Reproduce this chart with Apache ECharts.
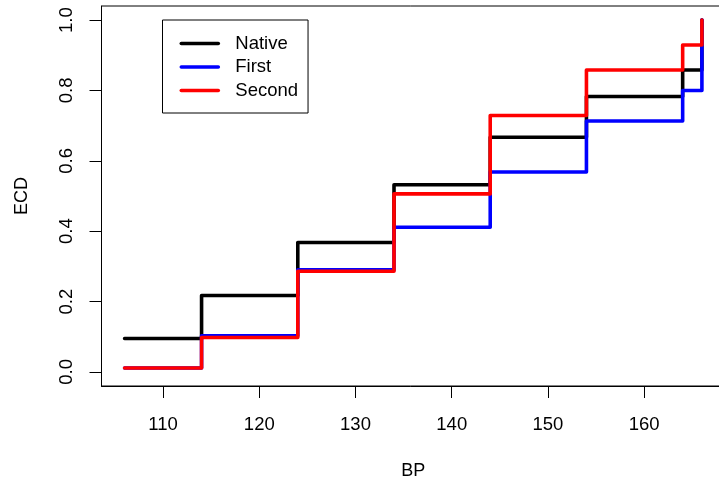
<!DOCTYPE html>
<html>
<head>
<meta charset="utf-8">
<script src="https://cdn.jsdelivr.net/npm/echarts@6/dist/echarts.min.js"></script>
<style>
html,body{margin:0;padding:0;background:#fff;}
#chart{width:719px;height:481px;}
</style>
</head>
<body>
<div id="chart"></div>
<script>
// Step positions (BP) and ECDF values for each group
var bpValues = [106, 114, 124, 134, 144, 154, 164, 166];
var nativeECD = [0.095, 0.217, 0.368, 0.532, 0.667, 0.783, 0.858, 1.0];
var firstECD  = [0.011, 0.103, 0.290, 0.411, 0.568, 0.713, 0.800, 1.0];
var secondECD = [0.011, 0.098, 0.286, 0.506, 0.729, 0.858, 0.929, 1.0];
var seriesNames = ['Native', 'First', 'Second'];
var xTicks = [110, 120, 130, 140, 150, 160];
var yTicks = [0, 0.2, 0.4, 0.6, 0.8, 1.0];

function pairs(xs, ys) { return xs.map(function (x, i) { return [x, ys[i]]; }); }

var FONT = 'Liberation Sans';
var chart = echarts.init(document.getElementById('chart'), null, {renderer: 'canvas'});

function stepSeries(name, ys, color) {
  return {
    name: name,
    type: 'line',
    step: 'end',
    symbol: 'none',
    data: pairs(bpValues, ys),
    lineStyle: {color: color, width: 3.6, cap: 'round', join: 'round'},
    itemStyle: {color: color},
    animation: false
  };
}

chart.setOption({
  animation: false,
  backgroundColor: '#fff',
  textStyle: {fontFamily: FONT},
  grid: {
    left: 101.5, top: 6, width: 623.5, height: 380,
    outerBoundsMode: 'none', containLabel: false,
    show: true, borderColor: '#000', borderWidth: 1, backgroundColor: 'transparent'
  },
  legend: {
    orient: 'vertical',
    left: 162.5, top: 20,
    data: seriesNames,
    itemWidth: 37, itemHeight: 18, itemGap: 4.5,
    padding: [14, 10, 13, 17],
    borderColor: '#000', borderWidth: 1,
    backgroundColor: '#fff',
    itemStyle: {opacity: 0, color: 'rgba(0,0,0,0)', borderWidth: 0},
    lineStyle: {width: 3.6, cap: 'round'},
    textStyle: {fontFamily: FONT, fontSize: 18.5, color: '#000', padding: [0, 0, 0, 12]},
    selectedMode: false
  },
  xAxis: {
    type: 'value',
    min: 103.6, max: 168.4,
    name: 'BP', nameLocation: 'middle', nameGap: 76,
    nameTextStyle: {fontFamily: FONT, fontSize: 18, color: '#000'},
    axisLine: {show: true, onZero: false, lineStyle: {color: '#000', width: 1}},
    axisTick: {show: true, length: 12, customValues: xTicks, lineStyle: {color: '#000', width: 1}},
    axisLabel: {customValues: xTicks, margin: 29, fontFamily: FONT, fontSize: 18.5, color: '#000'},
    splitLine: {show: false}
  },
  yAxis: {
    type: 'value',
    min: -0.04, max: 1.04,
    name: 'ECD', nameLocation: 'middle', nameGap: 70, nameRotate: 90,
    nameTextStyle: {fontFamily: FONT, fontSize: 18, color: '#000'},
    axisLine: {show: true, onZero: false, lineStyle: {color: '#000', width: 1}},
    axisTick: {show: true, length: 12, customValues: yTicks, lineStyle: {color: '#000', width: 1}},
    axisLabel: {customValues: yTicks, rotate: 90, margin: 25, fontFamily: FONT, fontSize: 18.5, color: '#000',
      formatter: function (v) { return v.toFixed(1); }},
    splitLine: {show: false}
  },
  series: [
    stepSeries(seriesNames[0], nativeECD, '#000000'),
    stepSeries(seriesNames[1], firstECD, '#0000FF'),
    stepSeries(seriesNames[2], secondECD, '#FF0000')
  ]
});
</script>
</body>
</html>
